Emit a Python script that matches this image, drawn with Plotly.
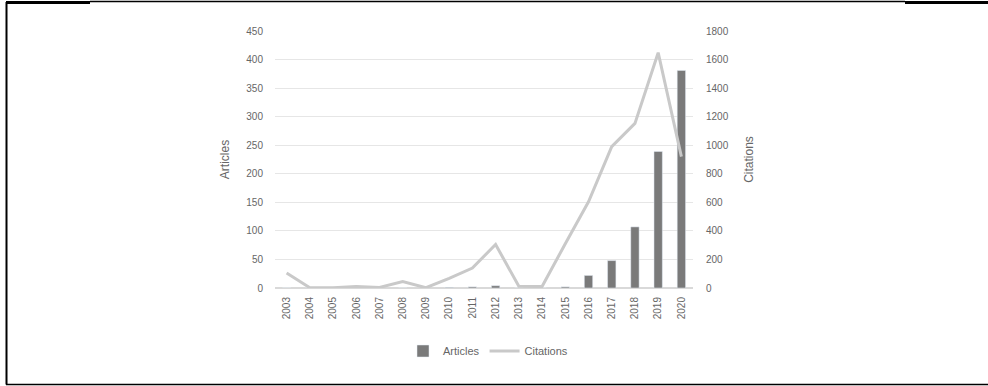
import plotly.graph_objects as go

years = [str(y) for y in range(2003, 2021)]
articles = [0, 0, 0, 0, 0, 0, 0, 1, 2, 4, 0, 0, 2, 22, 48, 107, 239, 381]
citations = [105, 2, 2, 10, 4, 45, 2, 68, 140, 305, 12, 10, 310, 604, 990, 1153, 1648, 920]

W, H = 988, 386
L, R, T, B = 275, 693, 31, 288

def px(x):
    return (x - L) / (R - L)

def py(y):
    return (B - y) / (B - T)

fig = go.Figure()
fig.add_trace(go.Bar(x=years, y=articles, name="Articles", marker_color="#7a7a7a", yaxis="y"))
fig.add_trace(go.Scatter(x=years, y=citations, name="Citations", mode="lines",
                         line=dict(color="#c9c9c9", width=3), yaxis="y2"))

grey = "#666666"
font = dict(family="Liberation Sans, Arial, sans-serif", size=10, color=grey)
fig.update_layout(
    width=W, height=H,
    margin=dict(l=L, r=W - R, t=T, b=H - B),
    paper_bgcolor="white", plot_bgcolor="white",
    font=font,
    bargap=0.64,
    showlegend=True,
    legend=dict(orientation="h", x=px(488), y=py(351), xanchor="center", yanchor="middle",
                font=dict(size=11, color=grey), itemwidth=30, traceorder="normal"),
    xaxis=dict(type="category", tickangle=-90, showgrid=False, showline=False, ticks="",
               ticklabelstandoff=6, tickfont=dict(size=10, color=grey)),
    yaxis=dict(range=[0, 450], dtick=50, showgrid=True, gridcolor="#e6e6e6", gridwidth=1,
               zeroline=True, zerolinecolor="#d9d9d9", showline=False, ticks="",
               ticklabelstandoff=11,
               title=dict(text="Articles", font=dict(size=12, color=grey), standoff=14),
               tickfont=dict(size=10, color=grey)),
    yaxis2=dict(range=[0, 1800], dtick=200, overlaying="y", side="right", showgrid=False,
                zeroline=False, showline=False, ticks="", ticklabelstandoff=12,
                title=dict(text="Citations", font=dict(size=12, color=grey), standoff=16),
                tickfont=dict(size=10, color=grey)),
)

# outer frame of the figure
frame = [
    dict(x0=px(6.5), x1=px(6.5), y0=py(384.5), y1=py(2), w=2),
    dict(x0=px(6), x1=px(988), y0=py(384.5), y1=py(384.5), w=1.5),
    dict(x0=px(6), x1=px(90), y0=py(2.5), y1=py(2.5), w=3),
    dict(x0=px(90), x1=px(905), y0=py(1.5), y1=py(1.5), w=1.5),
    dict(x0=px(905), x1=px(988), y0=py(2.5), y1=py(2.5), w=3),
]
for f in frame:
    fig.add_shape(type="line", xref="paper", yref="paper", x0=f["x0"], x1=f["x1"],
                  y0=f["y0"], y1=f["y1"], line=dict(color="black", width=f["w"]))

fig.write_html("out.html")
